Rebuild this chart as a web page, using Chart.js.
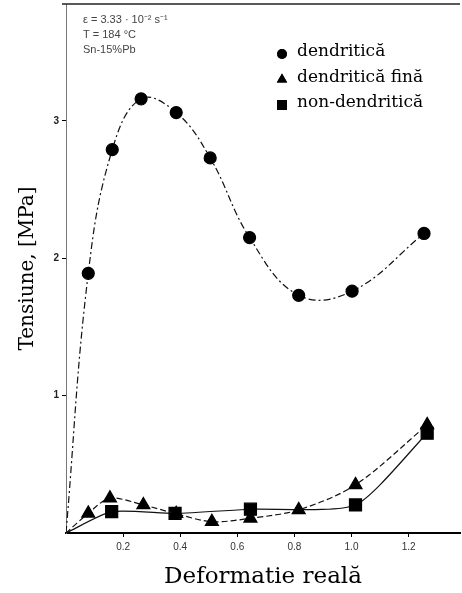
<!DOCTYPE html>
<html>
<head>
<meta charset="utf-8">
<script src="https://cdn.jsdelivr.net/npm/chart.js@4"></script>
<style>
  body { margin: 0; background: #fff; }
  .chart-container { width: 462px; height: 593px; position: relative; }
</style>
</head>
<body>
<div class="chart-container"><canvas id="chart"></canvas></div>
<script>
// deformation (x) and stress (y)
const dendXs = [0, 0.078, 0.162, 0.263, 0.386, 0.505, 0.643, 0.815, 1.002, 1.254]
const dendYs = [0, 1.89, 2.79, 3.16, 3.06, 2.73, 2.15, 1.73, 1.76, 2.18]

const fineXs = [0, 0.078, 0.154, 0.271, 0.386, 0.511, 0.646, 0.815, 1.014, 1.265]
const fineYs = [0, 0.143, 0.253, 0.204, 0.14, 0.082, 0.107, 0.168, 0.35, 0.787]

const nonXs = [0, 0.160, 0.382, 0.646, 1.014, 1.265]
const nonYs = [0, 0.155, 0.143, 0.173, 0.204, 0.726]

const xTicks = [0.2, 0.4, 0.6, 0.8, 1.0, 1.2]
const yTicks = [1, 2, 3]

const seriesLabels = ['dendritică', 'dendritică fină', 'non-dendritică']
const notes = ['ε = 3.33 · 10⁻² s⁻¹', 'T = 184 °C', 'Sn-15%Pb']

const toPoints = (xs, ys) => xs.map((x, i) => ({ x: x, y: ys[i] }))
// no marker on the origin point
const markerSizes = (xs, r) => xs.map((x) => (x === 0 ? 0 : r))

const extrasPlugin = {
  id: 'extras',
  afterDraw(chart) {
    const ctx = chart.ctx
    const area = chart.chartArea
    ctx.save()
    // top frame line
    ctx.strokeStyle = '#222'
    ctx.lineWidth = 1.5
    ctx.beginPath()
    ctx.moveTo(area.left - 4, area.top)
    ctx.lineTo(area.right, area.top)
    ctx.stroke()

    // test conditions
    ctx.fillStyle = '#444'
    ctx.font = '11px "Liberation Sans"'
    ctx.textBaseline = 'middle'
    notes.forEach((t, i) => ctx.fillText(t, 83, 20 + i * 15))

    // legend
    ctx.font = '17px "DejaVu Serif"'
    chart.data.datasets.forEach((ds, i) => {
      const y = 52 + i * 25.5
      Chart.helpers.drawPoint(ctx, {
        pointStyle: ds.pointStyle,
        radius: ds.legendRadius,
        rotation: 0,
        borderWidth: 0,
      }, 282, y + 2)
      ctx.fillStyle = '#000'
      ctx.fill()
      ctx.fillText(ds.label, 297, y)
    })
    ctx.restore()
  },
}

new Chart(document.getElementById('chart'), {
  type: 'scatter',
  data: {
    datasets: [
      {
        label: seriesLabels[0],
        data: toPoints(dendXs, dendYs),
        showLine: true,
        tension: 0.4,
        borderColor: '#111',
        borderWidth: 1.2,
        borderDash: [7, 3, 2, 3],
        pointStyle: 'circle',
        pointRadius: markerSizes(dendXs, 6),
        legendRadius: 5,
        pointBackgroundColor: '#000',
        pointBorderColor: '#000',
      },
      {
        label: seriesLabels[1],
        data: toPoints(fineXs, fineYs),
        showLine: true,
        tension: 0.3,
        borderColor: '#111',
        borderWidth: 1.2,
        borderDash: [6, 3],
        pointStyle: 'triangle',
        pointRadius: markerSizes(fineXs, 7.5),
        legendRadius: 6,
        pointBackgroundColor: '#000',
        pointBorderColor: '#000',
      },
      {
        label: seriesLabels[2],
        data: toPoints(nonXs, nonYs),
        showLine: true,
        tension: 0.2,
        borderColor: '#111',
        borderWidth: 1.2,
        pointStyle: 'rect',
        pointRadius: markerSizes(nonXs, 8.5),
        legendRadius: 7,
        pointBackgroundColor: '#000',
        pointBorderColor: '#000',
      },
    ],
  },
  options: {
    responsive: true,
    maintainAspectRatio: false,
    animation: false,
    layout: { autoPadding: false, padding: { top: 4, right: 2, left: 0, bottom: 0 } },
    plugins: {
      legend: { display: false },
      tooltip: { enabled: false },
    },
    scales: {
      x: {
        type: 'linear',
        min: 0,
        max: 1.38,
        afterBuildTicks: (s) => { s.ticks = xTicks.map((v) => ({ value: v })) },
        afterFit: (s) => { s.height = 60 },
        ticks: {
          color: '#333',
          font: { size: 10, family: 'Liberation Sans' },
          padding: 4,
          maxRotation: 0,
          callback: (v) => v.toFixed(1),
        },
        grid: { drawOnChartArea: false, tickLength: 4, color: '#000' },
        border: { color: '#000', width: 2 },
        title: {
          display: true,
          text: 'Deformatie reală',
          color: '#000',
          font: { size: 23, family: 'DejaVu Serif' },
          padding: { top: 0, bottom: 2 },
        },
      },
      y: {
        type: 'linear',
        min: 0,
        max: 3.85,
        afterBuildTicks: (s) => { s.ticks = yTicks.map((v) => ({ value: v })) },
        afterFit: (s) => {
          s.width = 66
          s.paddingTop = 0
          s.paddingBottom = 0
        },
        ticks: {
          color: '#222',
          font: { size: 10, family: 'Liberation Sans', weight: 'bold' },
          padding: 3,
        },
        grid: { drawOnChartArea: false, tickLength: 4, color: '#000' },
        border: { color: '#777', width: 1, dash: [1, 2] },
        title: {
          display: true,
          text: 'Tensiune, [MPa]',
          color: '#000',
          font: { size: 20, family: 'DejaVu Serif' },
          padding: { top: 16, bottom: 0 },
        },
      },
    },
  },
  plugins: [extrasPlugin],
})
</script>
</body>
</html>
